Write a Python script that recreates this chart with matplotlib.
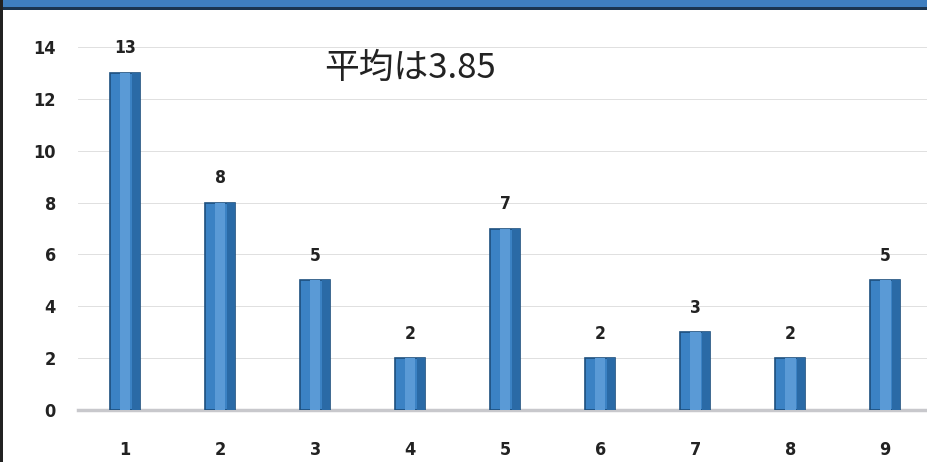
import numpy as np
import matplotlib.pyplot as plt
from matplotlib.patches import Rectangle

# data
categories = [1, 2, 3, 4, 5, 6, 7, 8, 9]
counts = [13, 8, 5, 2, 7, 2, 3, 2, 5]
y_ticks = [0, 2, 4, 6, 8, 10, 12, 14]
title_text = '平均は3.85'

plt.rcParams['font.family'] = ['DejaVu Sans']
plt.rcParams['font.stretch'] = 'condensed'

fig = plt.figure(figsize=(9.28, 4.62), dpi=100)
W, H = 928, 462
# axes: left 78px, bottom at 410px, top (value 14) at 47px, runs past right edge
ax = fig.add_axes([78 / W, 1 - 410 / H, (W - 78) / W, (410 - 47) / H])
ax.set_xlim(0.505, 9.45)
ax.set_ylim(0, 14)

bw = 0.32
face = '#3b82c4'
edge = '#1d4f7e'
ax.bar(categories, counts, width=bw, color=face, edgecolor=edge, linewidth=1.2, zorder=3)
# bevel: darker right side, lighter centre strip
ax.bar(np.array(categories) + bw * 0.36, counts, width=bw * 0.28, color='#2a6aa6',
       linewidth=0, zorder=4)
ax.bar(categories, counts, width=bw * 0.35, color='#5a9ad6', linewidth=0, zorder=4)

for x, v in zip(categories, counts):
    ax.text(x, v + 0.95, str(v), ha='center', va='center', fontsize=12.5,
            fontweight='bold', color='#222222')

ax.set_yticks(y_ticks)
ax.set_xticks(categories)
ax.tick_params(axis='both', length=0, labelsize=13, labelcolor='#222222')
ax.tick_params(axis='x', pad=22)
ax.tick_params(axis='y', pad=16)
for lab in ax.get_xticklabels() + ax.get_yticklabels():
    lab.set_fontweight('bold')

ax.grid(axis='y', color='#e0e0e0', linewidth=0.7, zorder=0)
for s in ['top', 'right', 'left']:
    ax.spines[s].set_visible(False)
ax.spines['bottom'].set_color('#c8c8cc')
ax.spines['bottom'].set_linewidth(2.5)

fig.text(410 / W, 1 - 68 / H, title_text, ha='center', va='center', fontsize=25,
         family=['Noto Sans CJK JP', 'DejaVu Sans'], color='#222222')

# scanned frame: blue band on top, dark line on left
fig.patches.append(Rectangle((0, 1 - 7 / H), 1, 7 / H, transform=fig.transFigure,
                             facecolor='#3f7fc0', edgecolor='none', zorder=10))
fig.patches.append(Rectangle((0, 1 - 10 / H), 1, 3 / H, transform=fig.transFigure,
                             facecolor='#1b3550', edgecolor='none', zorder=10))
fig.patches.append(Rectangle((0, 0), 3 / W, 1, transform=fig.transFigure,
                             facecolor='#222222', edgecolor='none', zorder=10))

fig.savefig('out.png', dpi=100)
